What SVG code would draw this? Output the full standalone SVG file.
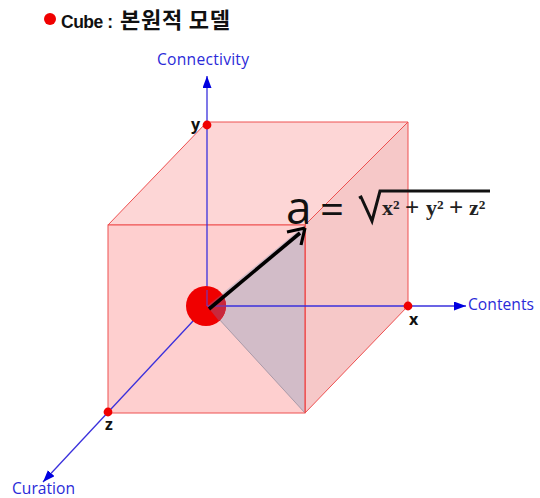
<svg xmlns="http://www.w3.org/2000/svg" width="540" height="498" viewBox="0 0 540 498">
<defs>
<marker id="blue" markerUnits="userSpaceOnUse" markerWidth="14" markerHeight="10" refX="12" refY="4.5" orient="auto"><path d="M0 0L12 4.5L0 9Z" fill="#0000e0"/></marker>
<style>
text{font-family:"Open Sans","Noto Sans CJK KR",sans-serif}
.axl{font-size:15.6px;fill:#2a2ad8}
.pt{font-size:16px;font-weight:700;fill:#111}
.dot{fill:#f00000}
.ax{stroke:#3a30dc;stroke-width:1.3;fill:none;marker-end:url(#blue)}
.edge{stroke:#ee5050;stroke-width:1}
.m{font-family:"Liberation Serif",serif;font-weight:700;fill:#222}
</style>
</defs>
<rect width="540" height="498" fill="#fff"/>
<g id="title"><circle cx="50" cy="19" r="6" fill="#f00000"/><text x="61" y="28" font-size="17.5" font-weight="700" fill="#111" style="font-family:'Liberation Sans','Noto Sans CJK KR',sans-serif" textLength="52">Cube :</text><text x="120" y="28" font-size="22" font-weight="700" fill="#111" style="font-family:'Noto Sans CJK KR',sans-serif" textLength="110">본원적 모델</text></g>
<g id="cube">
<path d="M108 225L207 122H408L305 225Z" fill="#fdd6d6" class="edge"/>
<path d="M305 225L408 122V306L305 413Z" fill="#f6c8c8" class="edge"/>
<rect x="108" y="225" width="197" height="188" fill="#fecfcf" class="edge"/>
<path d="M207 306L305 225V413Z" fill="#d2bcc8"/>
<path d="M207 306L305 413" stroke="#a99aa8" stroke-width="1" fill="none"/>
<path d="M305 225V413" stroke="#ee4a4a" stroke-width="1.2"/>
</g>
<g id="connectors">
<path class="ax" d="M207 306V76"/>
<path class="ax" d="M207 306H466"/>
<path class="ax" d="M207 306L43 482"/>
</g>
<g id="origin"><circle cx="206" cy="306" r="20" fill="#f00000"/><path d="M222 294A20 20 0 0 1 219 321L207 306Z" fill="#c8283c"/><path d="M207 306V290M207 306H226" stroke="#5a40d8" stroke-width="1"/></g>
<g id="vector"><path d="M209 309L300 233" stroke="#000" stroke-width="3.6" fill="none"/><path d="M305 228L287 232M305 228L301 245" stroke="#000" stroke-width="3.2" fill="none"/></g>
<g id="node-y"><circle class="dot" cx="207" cy="125" r="4.4"/><text class="pt" x="191" y="130">y</text></g>
<g id="node-x"><circle class="dot" cx="408" cy="306" r="4.4"/><text class="pt" x="409" y="325">x</text></g>
<g id="node-z"><circle class="dot" cx="108" cy="412" r="4.4"/><text class="pt" x="105" y="430">z</text></g>
<g id="labels">
<text class="axl" x="157" y="65" textLength="92">Connectivity</text>
<text class="axl" x="468" y="310" textLength="66">Contents</text>
<text class="axl" x="12" y="494" textLength="63">Curation</text>
</g>
<g id="formula">
<text x="286" y="224" font-size="46" fill="#111">a</text>
<text x="320" y="224" font-size="42" fill="#111">=</text>
<path d="M359 198L361 197L372 221L380 191H490" fill="none" stroke="#111" stroke-width="3"/>
<text class="m" x="382" y="215" font-size="22">x²</text>
<text class="m" x="405" y="216" font-size="25">+</text>
<text class="m" x="426" y="215" font-size="22">y²</text>
<text class="m" x="449" y="216" font-size="25">+</text>
<text class="m" x="469" y="215" font-size="22">z²</text>
</g>
</svg>
